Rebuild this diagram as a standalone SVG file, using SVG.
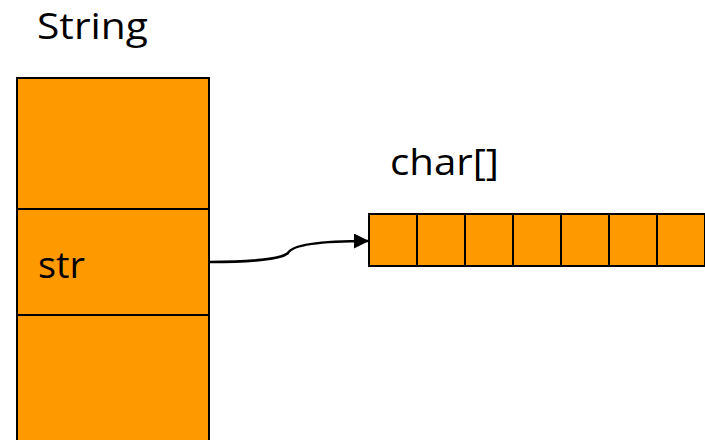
<svg xmlns="http://www.w3.org/2000/svg" width="705" height="440" viewBox="0 0 705 440">
<style>
.cell{fill:#FF9900;stroke:#000;stroke-width:2}
.lbl{font-family:"Open Sans","Liberation Sans",sans-serif;font-size:37px;fill:#000}
</style>
<defs>
<marker id="ah" markerWidth="15" markerHeight="15" refX="14" refY="7.5" orient="auto" markerUnits="userSpaceOnUse" viewBox="0 0 15 15">
<path d="M0,0 L15,7.5 L0,15 z" fill="#000"/>
</marker>
</defs>
<rect width="705" height="440" fill="#fff"/>
<text class="lbl" x="37" y="39" textLength="111" lengthAdjust="spacingAndGlyphs">String</text>
<g id="string-obj">
<rect class="cell" x="17" y="78" width="192" height="131"/>
<rect class="cell" x="17" y="209" width="192" height="106"/>
<rect class="cell" x="17" y="315" width="192" height="130"/>
<text class="lbl" x="38" y="278" textLength="47" lengthAdjust="spacingAndGlyphs">str</text>
</g>
<text class="lbl" x="390" y="175" textLength="109" lengthAdjust="spacingAndGlyphs">char[]</text>
<g id="char-array">
<rect class="cell" x="369" y="214" width="48" height="52"/>
<rect class="cell" x="417" y="214" width="48" height="52"/>
<rect class="cell" x="465" y="214" width="48" height="52"/>
<rect class="cell" x="513" y="214" width="48" height="52"/>
<rect class="cell" x="561" y="214" width="48" height="52"/>
<rect class="cell" x="609" y="214" width="48" height="52"/>
<rect class="cell" x="657" y="214" width="48" height="52"/>
</g>
<g id="connectors">
<path d="M209,262 C250,262 282,259 288,253 C292,245 320,241 368,241" fill="none" stroke="#000" stroke-width="2.5" marker-end="url(#ah)"/>
</g>
</svg>
